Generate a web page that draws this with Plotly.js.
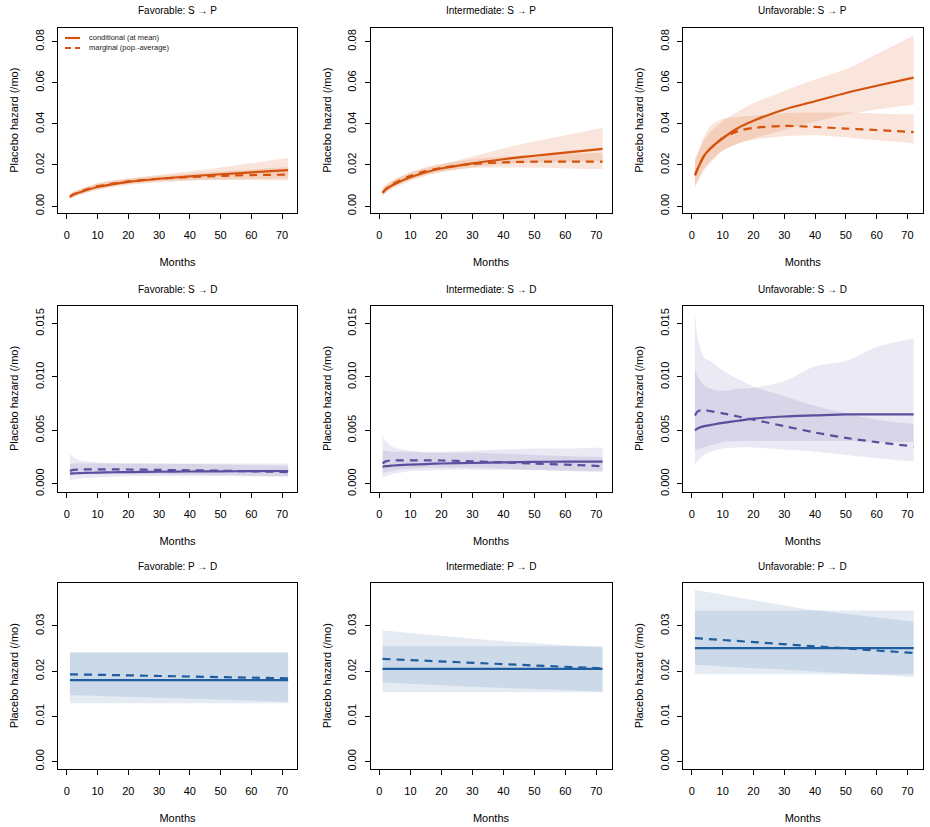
<!DOCTYPE html>
<html>
<head>
<meta charset="utf-8">
<script src="https://cdn.plot.ly/plotly-3.0.1.min.js"></script>
<style>html,body{margin:0;padding:0;background:#fff}#chart{width:930px;height:827px}</style>
</head>
<body>
<div id="chart"></div>
<script>
// ---------------- DATA ----------------
var months = [1, 2, 4, 6, 10, 15, 20, 30, 40, 50, 60, 72];
var monthsPD = [1, 36, 72];

var panelTitles = [
  "Favorable: S \u2192 P", "Intermediate: S \u2192 P", "Unfavorable: S \u2192 P",
  "Favorable: S \u2192 D", "Intermediate: S \u2192 D", "Unfavorable: S \u2192 D",
  "Favorable: P \u2192 D", "Intermediate: P \u2192 D", "Unfavorable: P \u2192 D"
];
var seriesNames = ["conditional (at mean)", "marginal (pop.-average)"];
var xTicks = [0, 10, 20, 30, 40, 50, 60, 70];
var yTicksSP = [0, 0.02, 0.04, 0.06, 0.08];
var yTicksSD = [0, 0.005, 0.010, 0.015];
var yTicksPD = [0, 0.01, 0.02, 0.03];

// Favorable S->P
var favSP_cond   = [0.0045, 0.0055, 0.0066, 0.0076, 0.0093, 0.0107, 0.0118, 0.0133, 0.0145, 0.0155, 0.0164, 0.0175];
var favSP_marg   = [0.0045, 0.0056, 0.0068, 0.0079, 0.0097, 0.0110, 0.0120, 0.0133, 0.0141, 0.0147, 0.0151, 0.0153];
var favSP_condLo = [0.0032, 0.0042, 0.0053, 0.0062, 0.0078, 0.0092, 0.0103, 0.0116, 0.0124, 0.0129, 0.0132, 0.0136];
var favSP_condHi = [0.0062, 0.0070, 0.0082, 0.0092, 0.0110, 0.0124, 0.0135, 0.0153, 0.0170, 0.0188, 0.0208, 0.0235];
var favSP_margLo = [0.0035, 0.0045, 0.0057, 0.0066, 0.0083, 0.0097, 0.0107, 0.0120, 0.0125, 0.0127, 0.0127, 0.0125];
var favSP_margHi = [0.0058, 0.0067, 0.0080, 0.0091, 0.0110, 0.0123, 0.0133, 0.0147, 0.0158, 0.0168, 0.0178, 0.0190];
// Intermediate S->P
var intSP_cond   = [0.0065, 0.0080, 0.0100, 0.0115, 0.0140, 0.0165, 0.0183, 0.0208, 0.0228, 0.0245, 0.0260, 0.0278];
var intSP_marg   = [0.0065, 0.0082, 0.0105, 0.0121, 0.0147, 0.0170, 0.0186, 0.0205, 0.0213, 0.0216, 0.0216, 0.0216];
var intSP_condLo = [0.0048, 0.0063, 0.0082, 0.0097, 0.0122, 0.0148, 0.0165, 0.0188, 0.0203, 0.0212, 0.0217, 0.0222];
var intSP_condHi = [0.0088, 0.0102, 0.0122, 0.0137, 0.0162, 0.0185, 0.0203, 0.0240, 0.0280, 0.0315, 0.0345, 0.0380];
var intSP_margLo = [0.0050, 0.0066, 0.0088, 0.0103, 0.0128, 0.0152, 0.0168, 0.0185, 0.0188, 0.0186, 0.0183, 0.0180];
var intSP_margHi = [0.0083, 0.0100, 0.0123, 0.0139, 0.0166, 0.0189, 0.0205, 0.0228, 0.0240, 0.0248, 0.0254, 0.0260];
// Unfavorable S->P
var unfSP_cond   = [0.0150, 0.0185, 0.0245, 0.0280, 0.0330, 0.0380, 0.0415, 0.0470, 0.0510, 0.0550, 0.0585, 0.0625];
var unfSP_marg   = [0.0150, 0.0185, 0.0245, 0.0280, 0.0330, 0.0365, 0.0380, 0.0390, 0.0385, 0.0377, 0.0370, 0.0360];
var unfSP_condLo = [0.0090, 0.0120, 0.0175, 0.0210, 0.0268, 0.0305, 0.0330, 0.0370, 0.0410, 0.0445, 0.0470, 0.0493];
var unfSP_condHi = [0.0230, 0.0262, 0.0320, 0.0360, 0.0412, 0.0460, 0.0500, 0.0560, 0.0615, 0.0665, 0.0740, 0.0830];
var unfSP_margLo = [0.0100, 0.0130, 0.0185, 0.0220, 0.0270, 0.0305, 0.0322, 0.0340, 0.0345, 0.0335, 0.0320, 0.0305];
var unfSP_margHi = [0.0215, 0.0260, 0.0340, 0.0390, 0.0425, 0.0432, 0.0440, 0.0452, 0.0455, 0.0455, 0.0450, 0.0445];
// Favorable S->D
var favSD_cond   = [0.00095, 0.00097, 0.00100, 0.00102, 0.00105, 0.00108, 0.00110, 0.00113, 0.00115, 0.00117, 0.00118, 0.00120];
var favSD_marg   = [0.00120, 0.00130, 0.00133, 0.00135, 0.00135, 0.00135, 0.00134, 0.00130, 0.00127, 0.00122, 0.00117, 0.00110];
var favSD_condLo = [0.00030, 0.00040, 0.00050, 0.00055, 0.00060, 0.00065, 0.00070, 0.00070, 0.00070, 0.00070, 0.00068, 0.00065];
var favSD_condHi = [0.00280, 0.00250, 0.00220, 0.00210, 0.00200, 0.00195, 0.00190, 0.00190, 0.00190, 0.00190, 0.00190, 0.00190];
var favSD_margLo = [0.00080, 0.00085, 0.00090, 0.00090, 0.00090, 0.00090, 0.00090, 0.00088, 0.00085, 0.00080, 0.00075, 0.00070];
var favSD_margHi = [0.00180, 0.00190, 0.00190, 0.00190, 0.00190, 0.00190, 0.00190, 0.00188, 0.00185, 0.00180, 0.00175, 0.00170];
// Intermediate S->D
var intSD_cond   = [0.00160, 0.00165, 0.00170, 0.00175, 0.00180, 0.00185, 0.00190, 0.00195, 0.00200, 0.00205, 0.00207, 0.00208];
var intSD_marg   = [0.00190, 0.00210, 0.00220, 0.00220, 0.00220, 0.00220, 0.00218, 0.00210, 0.00200, 0.00190, 0.00180, 0.00165];
var intSD_condLo = [0.00050, 0.00070, 0.00090, 0.00100, 0.00120, 0.00125, 0.00130, 0.00130, 0.00130, 0.00128, 0.00125, 0.00120];
var intSD_condHi = [0.00460, 0.00400, 0.00350, 0.00330, 0.00310, 0.00300, 0.00300, 0.00310, 0.00320, 0.00330, 0.00330, 0.00340];
var intSD_margLo = [0.00100, 0.00110, 0.00120, 0.00130, 0.00140, 0.00150, 0.00150, 0.00150, 0.00140, 0.00130, 0.00120, 0.00110];
var intSD_margHi = [0.00310, 0.00310, 0.00300, 0.00300, 0.00300, 0.00290, 0.00290, 0.00290, 0.00280, 0.00270, 0.00260, 0.00250];
// Unfavorable S->D
var unfSD_cond   = [0.0050, 0.0052, 0.0054, 0.0055, 0.0057, 0.0059, 0.0061, 0.0063, 0.0064, 0.0065, 0.0065, 0.0065];
var unfSD_marg   = [0.0064, 0.0068, 0.0069, 0.0068, 0.0066, 0.0063, 0.0060, 0.0054, 0.0048, 0.0043, 0.0039, 0.0035];
var unfSD_condLo = [0.0032, 0.0032, 0.0034, 0.0036, 0.0039, 0.0040, 0.0040, 0.0040, 0.0040, 0.0040, 0.0039, 0.0039];
var unfSD_condHi = [0.0108, 0.0100, 0.0092, 0.0089, 0.0087, 0.0089, 0.0090, 0.0096, 0.0110, 0.0115, 0.0128, 0.0136];
var unfSD_margLo = [0.0018, 0.0022, 0.0027, 0.0030, 0.0033, 0.0034, 0.0034, 0.0032, 0.0030, 0.0027, 0.0024, 0.0021];
var unfSD_margHi = [0.0160, 0.0135, 0.0118, 0.0115, 0.0106, 0.0098, 0.0091, 0.0082, 0.0073, 0.0066, 0.0060, 0.0056];
// Favorable P->D
var favPD_cond   = [0.0180, 0.0180, 0.0180];
var favPD_marg   = [0.0193, 0.0188, 0.0184];
var favPD_condLo = [0.0129, 0.0129, 0.0129];
var favPD_condHi = [0.0241, 0.0241, 0.0241];
var favPD_margLo = [0.0147, 0.0139, 0.0132];
var favPD_margHi = [0.0241, 0.0241, 0.0241];
// Intermediate P->D
var intPD_cond   = [0.0205, 0.0205, 0.0205];
var intPD_marg   = [0.0227, 0.0216, 0.0206];
var intPD_condLo = [0.0153, 0.0153, 0.0153];
var intPD_condHi = [0.0255, 0.0255, 0.0255];
var intPD_margLo = [0.0175, 0.0164, 0.0155];
var intPD_margHi = [0.0290, 0.0268, 0.0252];
// Unfavorable P->D
var unfPD_cond   = [0.0251, 0.0251, 0.0251];
var unfPD_marg   = [0.0273, 0.0256, 0.0240];
var unfPD_condLo = [0.0193, 0.0193, 0.0193];
var unfPD_condHi = [0.0334, 0.0334, 0.0334];
var unfPD_margLo = [0.0214, 0.0200, 0.0187];
var unfPD_margHi = [0.0380, 0.0338, 0.0309];

// ---------------- STYLE ----------------
var FONT = "Liberation Sans, Arial, Helvetica, sans-serif";
var W = 930, H = 827;
var colPx = [[58, 297], [370.5, 611.5], [683, 922.5]];
var rowPx = [[27.5, 213], [305.5, 491.5], [582.5, 769]];
var rowStyle = [
  {line: "#D4520C", fill: "rgba(212,82,12,0.15)", yr: [-0.00334, 0.08684], ticks: yTicksSP, fmt: ".2f", grid: months, smooth: true},
  {line: "#5E4C9E", fill: "rgba(94,76,158,0.12)", yr: [-0.00072, 0.01669], ticks: yTicksSD, fmt: ".3f", grid: months, smooth: true},
  {line: "#1F5DA0", fill: "rgba(31,93,160,0.12)", yr: [-0.00165, 0.0396], ticks: yTicksPD, fmt: ".2f", grid: monthsPD, smooth: false}
];
var panelData = [
  [favSP_cond, favSP_marg, favSP_condLo, favSP_condHi, favSP_margLo, favSP_margHi],
  [intSP_cond, intSP_marg, intSP_condLo, intSP_condHi, intSP_margLo, intSP_margHi],
  [unfSP_cond, unfSP_marg, unfSP_condLo, unfSP_condHi, unfSP_margLo, unfSP_margHi],
  [favSD_cond, favSD_marg, favSD_condLo, favSD_condHi, favSD_margLo, favSD_margHi],
  [intSD_cond, intSD_marg, intSD_condLo, intSD_condHi, intSD_margLo, intSD_margHi],
  [unfSD_cond, unfSD_marg, unfSD_condLo, unfSD_condHi, unfSD_margLo, unfSD_margHi],
  [favPD_cond, favPD_marg, favPD_condLo, favPD_condHi, favPD_margLo, favPD_margHi],
  [intPD_cond, intPD_marg, intPD_condLo, intPD_condHi, intPD_margLo, intPD_margHi],
  [unfPD_cond, unfPD_marg, unfPD_condLo, unfPD_condHi, unfPD_margLo, unfPD_margHi]
];

var traces = [];
var DASH = "8px,6px";
var layout = {
  width: W, height: H,
  margin: {l: 0, r: 0, t: 0, b: 0},
  paper_bgcolor: "#fff", plot_bgcolor: "#fff",
  font: {family: FONT, color: "#000", size: 11},
  showlegend: false,
  annotations: [],
  shapes: []
};

for (var p = 0; p < 9; p++) {
  var r = Math.floor(p / 3), c = p % 3;
  var st = rowStyle[r];
  var d = panelData[p];
  var k = p + 1;
  var xa = "x" + (k === 1 ? "" : k), ya = "y" + (k === 1 ? "" : k);
  var shp = st.smooth ? "spline" : "linear";
  var base = {x: st.grid, xaxis: xa, yaxis: ya, mode: "lines", hoverinfo: "skip"};
  // bands
  traces.push(Object.assign({}, base, {y: d[2], line: {width: 0, shape: shp, smoothing: 0.8}}));
  traces.push(Object.assign({}, base, {y: d[3], line: {width: 0, shape: shp, smoothing: 0.8}, fill: "tonexty", fillcolor: st.fill}));
  traces.push(Object.assign({}, base, {y: d[4], line: {width: 0, shape: shp, smoothing: 0.8}}));
  traces.push(Object.assign({}, base, {y: d[5], line: {width: 0, shape: shp, smoothing: 0.8}, fill: "tonexty", fillcolor: st.fill}));
  // lines
  traces.push(Object.assign({}, base, {y: d[0], name: seriesNames[0], line: {color: st.line, width: 2.2, shape: shp, smoothing: 0.8}}));
  traces.push(Object.assign({}, base, {y: d[1], name: seriesNames[1], line: {color: st.line, width: 2.2, dash: DASH, shape: shp, smoothing: 0.8}}));

  var xd = [colPx[c][0] / W, colPx[c][1] / W];
  var yd = [1 - rowPx[r][1] / H, 1 - rowPx[r][0] / H];
  var axCommon = {
    showline: true, mirror: true, linecolor: "#000", linewidth: 1,
    ticks: "outside", ticklen: 5, tickcolor: "#000", tickwidth: 1,
    showgrid: false, zeroline: false, fixedrange: true,
    tickfont: {size: 11, family: FONT, color: "#000"}
  };
  layout["xaxis" + (k === 1 ? "" : k)] = Object.assign({}, axCommon, {
    domain: xd, anchor: ya, range: [-2.88, 74.88],
    tickvals: xTicks, ticktext: xTicks.map(String), ticklabelstandoff: 7,
    title: {text: "Months", font: {size: 11, family: FONT}, standoff: 18}
  });
  layout["yaxis" + (k === 1 ? "" : k)] = Object.assign({}, axCommon, {
    domain: yd, anchor: xa, range: st.yr,
    tickvals: st.ticks, tickformat: st.fmt, tickangle: -90, ticklabelstandoff: 4,
    title: {text: "Placebo hazard (/mo)", font: {size: 11, family: FONT}, standoff: 12}
  });
  layout.annotations.push({
    text: panelTitles[p], xref: "paper", yref: "paper",
    x: (xd[0] + xd[1]) / 2, y: 1 - (rowPx[r][0] - 16.5) / H,
    xanchor: "center", yanchor: "middle", showarrow: false,
    font: {size: 10, family: FONT, color: "#000"}
  });
}

// legend (drawn inside the first panel, like base-R legend())
var legendRows = [38, 48];
for (var i = 0; i < 2; i++) {
  layout.shapes.push({
    type: "line", xref: "paper", yref: "paper",
    x0: 65 / W, x1: 80 / W, y0: 1 - legendRows[i] / H, y1: 1 - legendRows[i] / H,
    line: {color: rowStyle[0].line, width: 2.2, dash: i === 0 ? "solid" : "6px,4px"}
  });
  layout.annotations.push({
    text: seriesNames[i], xref: "paper", yref: "paper",
    x: 87 / W, y: 1 - legendRows[i] / H, xanchor: "left", yanchor: "middle",
    showarrow: false, font: {size: 7.5, family: FONT, color: "#222"}
  });
}

Plotly.newPlot("chart", traces, layout, {displayModeBar: false, staticPlot: true});
</script>
</body>
</html>
